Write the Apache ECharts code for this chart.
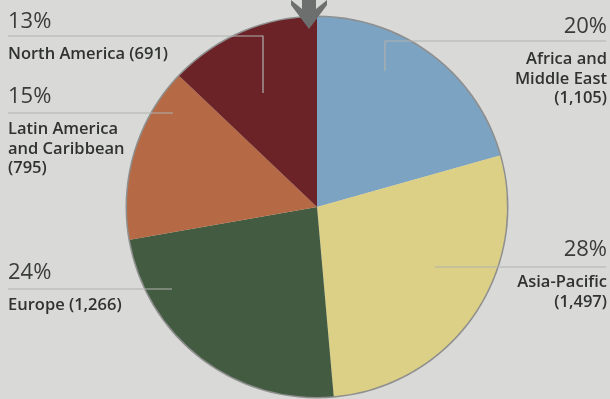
<!DOCTYPE html>
<html>
<head>
<meta charset="utf-8">
<script src="https://cdn.jsdelivr.net/npm/echarts@6/dist/echarts.min.js"></script>
<style>
  html, body { margin: 0; padding: 0; background: #d9dad8; }
  #chart { width: 610px; height: 399px; }
</style>
</head>
<body>
<div id="chart"></div>
<script>
// Regions, clockwise from 12 o'clock
const regions = ['Africa and\nMiddle East', 'Asia-Pacific', 'Europe', 'Latin America\nand Caribbean', 'North America'];
const counts = [1105, 1497, 1266, 795, 691];
const countLabels = ['(1,105)', '(1,497)', '(1,266)', '(795)', '(691)'];
const shareLabels = ['20%', '28%', '24%', '15%', '13%'];
// whether the count goes on its own line
const countOnNewLine = [true, true, false, true, false];

const sliceColors = ['#7ca3c1', '#dccf86', '#435b41', '#b56a45', '#6b2328'];

// label block placement: top anchor and leader-line path
const labelSpots = [
  { x: 607, y: 4,   align: 'right', line: [[385, 71], [385, 41], [606, 41]] },
  { x: 607, y: 227, align: 'right', line: [[435, 267], [606, 267]] },
  { x: 8,   y: 250, align: 'left',  line: [[172, 289], [8, 289]] },
  { x: 8,   y: 74,  align: 'left',  line: [[173, 113], [8, 113]] },
  { x: 8,   y: -1,  align: 'left',  line: [[263, 93], [263, 36], [8, 36]] }
];

const pieData = regions.map((r, i) => ({
  name: r,
  value: counts[i],
  itemStyle: { color: sliceColors[i] }
}));

const chart = echarts.init(document.getElementById('chart'), null, { renderer: 'canvas' });

chart.setOption({
  backgroundColor: '#d9dad8',
  animation: false,
  series: [
    {
      // thin grey rim around the pie
      type: 'pie',
      silent: true,
      center: [317, 207],
      radius: [189, 191.5],
      startAngle: 90,
      label: { show: false },
      labelLine: { show: false },
      data: [{ value: 1, itemStyle: { color: '#8e8f8e' } }],
      z: 1
    },
    {
      type: 'pie',
      center: [317, 207],
      radius: [0, 190],
      startAngle: 90,
      clockwise: true,
      silent: true,
      data: pieData,
      itemStyle: { borderWidth: 0 },
      label: {
        show: true,
        position: 'outside',
        overflow: 'none',
        fontFamily: 'Open Sans',
        formatter: (p) => {
          const i = p.dataIndex;
          const name = regions[i] + (countOnNewLine[i] ? '\n' : ' ') + countLabels[i];
          const lines = name.split('\n').map(s => '{n|' + s + '}').join('\n');
          return '{p|' + shareLabels[i] + '}\n' + lines;
        },
        rich: {
          p: { fontSize: 22, fontWeight: 'normal', color: '#3a3b3b', lineHeight: 46, fontFamily: 'Open Sans' },
          n: { fontSize: 16.5, fontWeight: 600, color: '#303131', lineHeight: 19.5, fontFamily: 'Open Sans' }
        }
      },
      labelLine: { show: false },
      labelLayout: (params) => {
        const s = labelSpots[params.dataIndex];
        return { x: s.x, y: s.y, align: s.align, verticalAlign: 'top' };
      },
      z: 2
    }
  ],
  graphic: [
    // leader lines from each slice to its label
    ...labelSpots.map((s) => ({
      type: 'polyline',
      silent: true,
      z: 5,
      shape: { points: s.line },
      style: { stroke: '#b0b1b0', lineWidth: 1.2, fill: null }
    })),
    {
      // marker arrow at 12 o'clock
      type: 'polygon',
      silent: true,
      z: 10,
      shape: {
        points: [[291, 0], [302, 9], [302, 0], [316, 0], [316, 9], [327, 0], [327, 5], [309, 29], [291, 5]]
      },
      style: { fill: '#6d6f6e' }
    }
  ]
});
</script>
</body>
</html>
